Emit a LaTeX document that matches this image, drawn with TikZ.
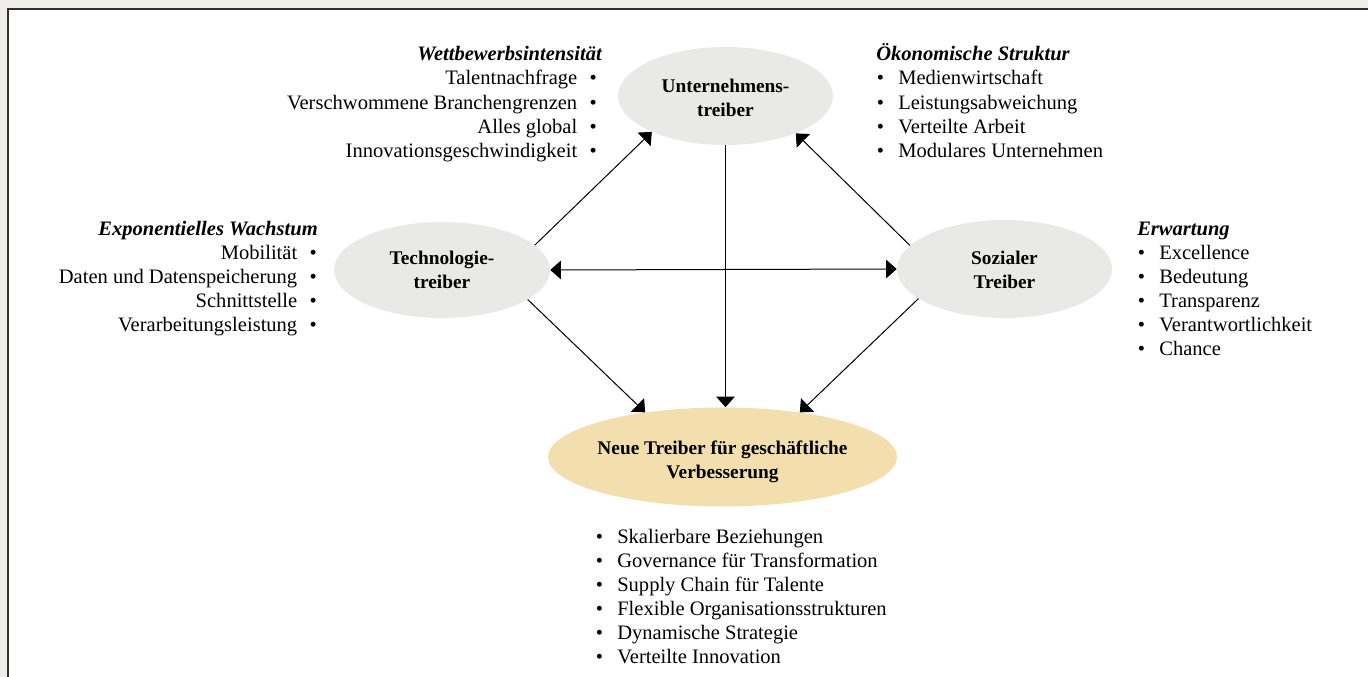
\documentclass[tikz,border=0pt]{standalone}
\usepackage{fontspec}
\setmainfont{Liberation Serif}
\usetikzlibrary{shapes.geometric,arrows.meta}
\definecolor{framebg}{HTML}{EFEDEA}
\definecolor{framedark}{HTML}{303030}
\definecolor{ellgray}{HTML}{E9EAE8}
\definecolor{ellbeige}{HTML}{F3DFAE}
\begin{document}
\begin{tikzpicture}[x=0.75pt,y=-0.75pt,
  txt/.style={inner sep=0pt, font=\fontsize{15.4}{18}\selectfont},
  head/.style={inner sep=0pt, font=\fontsize{15.4}{18}\selectfont\bfseries\itshape},
  drv/.style={ellipse, fill=ellgray, inner sep=0pt},
  lbl/.style={inner sep=0pt, align=center, font=\fontsize{14.5}{18}\selectfont\bfseries},
  arr/.style={draw=black, line width=0.75pt, -{Triangle[length=8pt, width=14pt]}},
  darr/.style={draw=black, line width=0.75pt, {Triangle[length=8pt, width=14pt]}-{Triangle[length=8pt, width=14pt]}}
]
\useasboundingbox (0,0) rectangle (1368,677);
% frame
\fill[framebg] (0,0) rectangle (1368,677);
\fill[white] (8,9) rectangle (1368,677);
\draw[framedark, line width=1.5pt] (8,677) -- (8,9) -- (1368,9);

% ellipses
\node[drv, minimum width=161.25pt, minimum height=73.5pt] (unt) at (725.5,96) {};
\node[drv, minimum width=162pt, minimum height=72pt] (tech) at (442,270) {};
\node[drv, minimum width=161.25pt, minimum height=73.5pt] (soz) at (1004.5,269) {};
\node[drv, fill=ellbeige, minimum width=261.75pt, minimum height=74.25pt] (neue) at (722.5,457) {};

\node[lbl] (untl) at (725.5,98) {Unternehmens-\\treiber};
\node[lbl] (techl) at (442,270) {Technologie-\\treiber};
\node[lbl] (sozl) at (1004.5,270) {Sozialer\\Treiber};
\node[lbl] (neuel) at (722.5,462) {Neue Treiber für geschäftliche\\Verbesserung};

% connectors
\draw[arr] (tech.15) -- (unt.206);
\draw[arr] (soz.166) -- (unt.332);
\draw[arr] (unt.south) -- (unt.south |- neue.north);
\draw[darr] (tech.east) -- (soz.west);
\draw[arr] (tech.-19) -- (neue.150);
\draw[arr] (soz.199) -- (neue.30);

% top-left block
\node[head, anchor=base east] (h1) at (602,61) {Wettbewerbsintensität};
\node[txt, anchor=base east] (a1) at (597,85) {Talentnachfrage\hspace{0.6em}\textbullet};
\node[txt, anchor=base east] (a2) at (597,110) {Verschwommene Branchengrenzen\hspace{0.6em}\textbullet};
\node[txt, anchor=base east] (a3) at (597,134) {Alles global\hspace{0.6em}\textbullet};
\node[txt, anchor=base east] (a4) at (597,158) {Innovationsgeschwindigkeit\hspace{0.6em}\textbullet};

% top-right block
\node[head, anchor=base west] (h2) at (876,61) {Ökonomische Struktur};
\node[txt, anchor=base west] (b1) at (876.5,85) {\textbullet\hspace{0.7em}Medienwirtschaft};
\node[txt, anchor=base west] (b2) at (876.5,110) {\textbullet\hspace{0.7em}Leistungsabweichung};
\node[txt, anchor=base west] (b3) at (876.5,134) {\textbullet\hspace{0.7em}Verteilte Arbeit};
\node[txt, anchor=base west] (b4) at (876.5,158) {\textbullet\hspace{0.7em}Modulares Unternehmen};

% left block
\node[head, anchor=base east] (h3) at (318,236) {Exponentielles Wachstum};
\node[txt, anchor=base east] (c1) at (317,260) {Mobilität\hspace{0.6em}\textbullet};
\node[txt, anchor=base east] (c2) at (317,284) {Daten und Datenspeicherung\hspace{0.6em}\textbullet};
\node[txt, anchor=base east] (c3) at (317,308) {Schnittstelle\hspace{0.6em}\textbullet};
\node[txt, anchor=base east] (c4) at (317,332) {Verarbeitungsleistung\hspace{0.6em}\textbullet};

% right block
\node[head, anchor=base west] (h4) at (1137,236) {Erwartung};
\node[txt, anchor=base west] (d1) at (1137.5,260) {\textbullet\hspace{0.7em}Excellence};
\node[txt, anchor=base west] (d2) at (1137.5,284) {\textbullet\hspace{0.7em}Bedeutung};
\node[txt, anchor=base west] (d3) at (1137.5,308) {\textbullet\hspace{0.7em}Transparenz};
\node[txt, anchor=base west] (d4) at (1137.5,332) {\textbullet\hspace{0.7em}Verantwortlichkeit};
\node[txt, anchor=base west] (d5) at (1137.5,356) {\textbullet\hspace{0.7em}Chance};

% bottom block
\node[txt, anchor=base west] (e1) at (595.5,543) {\textbullet\hspace{0.7em}Skalierbare Beziehungen};
\node[txt, anchor=base west] (e2) at (595.5,567) {\textbullet\hspace{0.7em}Governance für Transformation};
\node[txt, anchor=base west] (e3) at (595.5,591) {\textbullet\hspace{0.7em}Supply Chain für Talente};
\node[txt, anchor=base west] (e4) at (595.5,615) {\textbullet\hspace{0.7em}Flexible Organisationsstrukturen};
\node[txt, anchor=base west] (e5) at (595.5,639) {\textbullet\hspace{0.7em}Dynamische Strategie};
\node[txt, anchor=base west] (e6) at (595.5,663) {\textbullet\hspace{0.7em}Verteilte Innovation};
\end{tikzpicture}
\end{document}
